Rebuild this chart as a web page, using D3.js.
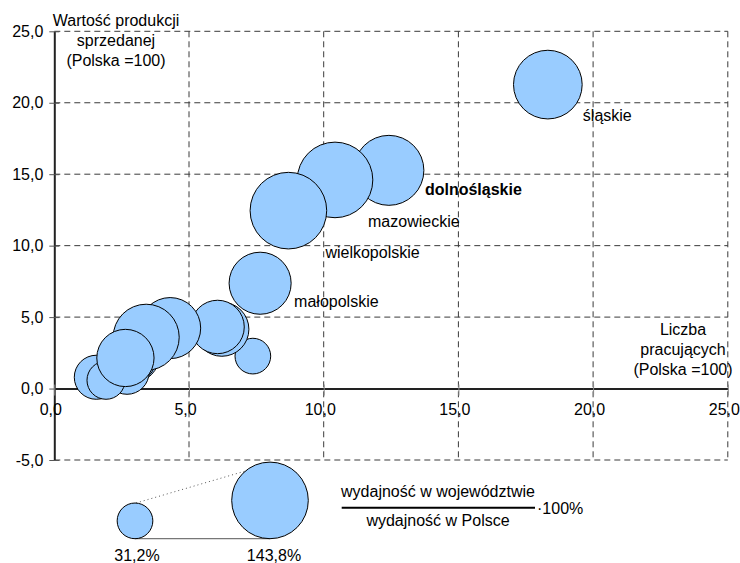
<!DOCTYPE html>
<html>
<head>
<meta charset="utf-8">
<script src="https://cdn.jsdelivr.net/npm/d3@7"></script>
<style>
  html, body { margin: 0; padding: 0; background: #fff; }
  svg { display: block; font-family: "Liberation Sans", Arial, sans-serif; }
</style>
</head>
<body>
<svg id="chart" width="740" height="563"></svg>
<script>
// ---- data ----
const regions = ["śląskie","dolnośląskie","mazowieckie","wielkopolskie","małopolskie",
  "opolskie","pomorskie","łódzkie","kujawsko-pomorskie","zachodniopomorskie",
  "lubuskie","podkarpackie","warmińsko-mazurskie","podlaskie","lubelskie","świętokrzyskie"];
const employment = [18.32, 12.42, 10.42, 8.69, 7.64, 7.37, 6.22, 6.06, 4.30, 2.87, 2.75, 2.70, 1.56, 1.92, 3.41, 2.64];
const production = [21.27, 15.27, 14.60, 12.45, 7.37, 2.27, 4.15, 4.31, 4.23, 2.36, 2.26, 1.14, 0.79, 0.58, 3.59, 2.14];
const productivity = [115.6, 120.0, 140.0, 143.8, 94.4, 31.2, 71.6, 70.0, 91.4, 77.0, 78.5, 47.6, 47.6, 35.5, 107.0, 80.4];
const labelled = ["śląskie","dolnośląskie","mazowieckie","wielkopolskie","małopolskie"];
const xTicks = [0, 5, 10, 15, 20, 25];
const yTicks = [-5, 0, 5, 10, 15, 20, 25];
const legendValues = [31.2, 143.8];
const yTitle = ["Wartość produkcji", "sprzedanej", "(Polska =100)"];
const xTitle = ["Liczba", "pracujących", "(Polska =100)"];
const formulaTop = "wydajność w województwie";
const formulaBottom = "wydajność w Polsce";
const formulaFactor = "·100%";

// ---- layout ----
const svg = d3.select("#chart");
const x = d3.scaleLinear().domain([0, 25]).range([54.3, 727.8]);
const y = d3.scaleLinear().domain([-5, 25]).range([460, 31.3]);
const r = d3.scaleSqrt().domain([0, 143.8]).range([0, 38.3]);
const fmt = v => d3.format(".1f")(v).replace(".", ",").replace("\u2212", "-");
const FS = 16;

// grid
const grid = svg.append("g").attr("stroke", "#3a3a3a").attr("stroke-width", 1)
  .attr("stroke-dasharray", "6,4").attr("fill", "none");
yTicks.filter(v => v !== 0).forEach(v => {
  grid.append("line").attr("x1", x(0)).attr("x2", x(25)).attr("y1", y(v)).attr("y2", y(v));
});
xTicks.filter(v => v !== 0).forEach(v => {
  grid.append("line").attr("x1", x(v)).attr("x2", x(v)).attr("y1", y(25)).attr("y2", y(-5));
});

// axes
const yAxis = d3.axisLeft(y).tickValues(yTicks).tickFormat(fmt).tickSizeInner(5).tickSizeOuter(0).tickPadding(6);
const gy = svg.append("g").attr("transform", `translate(${x(0)},0)`).call(yAxis);
gy.select(".domain").attr("stroke", "#222").attr("stroke-width", 2);
gy.selectAll(".tick line").attr("stroke", "#555").attr("x2", -5).attr("x1", 5);
gy.selectAll(".tick text").attr("font-size", FS).attr("font-family", "Liberation Sans, Arial, sans-serif").attr("fill", "#000");

const xAxis = d3.axisBottom(x).tickValues(xTicks).tickFormat(fmt).tickSizeInner(5).tickSizeOuter(0).tickPadding(10);
const gx = svg.append("g").attr("transform", `translate(0,${y(0)})`).call(xAxis);
gx.select(".domain").attr("stroke", "#222").attr("stroke-width", 2);
gx.selectAll(".tick line").attr("stroke", "#888").attr("y1", -4).attr("y2", 7);
gx.selectAll(".tick text").attr("font-size", FS).attr("font-family", "Liberation Sans, Arial, sans-serif")
  .attr("fill", "#000").attr("dx", -4);

// bubbles
const data = regions.map((name, i) => ({ name, x: employment[i], y: production[i], v: productivity[i] }));
svg.append("g").selectAll("circle").data(data).join("circle")
  .attr("cx", d => x(d.x)).attr("cy", d => y(d.y)).attr("r", d => r(d.v))
  .attr("fill", "#99CCFF").attr("stroke", "#000").attr("stroke-width", 1);

// labels
const labelOffset = {
  "śląskie": [35, 31, "normal"],
  "dolnośląskie": [36, 19, "bold"],
  "mazowieckie": [33, 41, "normal"],
  "wielkopolskie": [37, 42, "normal"],
  "małopolskie": [34, 18, "normal"]
};
svg.append("g").selectAll("text").data(data.filter(d => labelled.includes(d.name))).join("text")
  .attr("x", d => x(d.x) + labelOffset[d.name][0])
  .attr("y", d => y(d.y) + labelOffset[d.name][1])
  .attr("dy", "0.35em")
  .attr("font-size", FS)
  .attr("font-weight", d => labelOffset[d.name][2])
  .text(d => d.name);

// axis titles
svg.append("g").selectAll("text").data(yTitle).join("text")
  .attr("x", 116).attr("y", (d, i) => 26 + i * 20)
  .attr("text-anchor", "middle").attr("font-size", FS).text(d => d);
svg.append("g").selectAll("text").data(xTitle).join("text")
  .attr("x", 683).attr("y", (d, i) => 335 + i * 20)
  .attr("text-anchor", "middle").attr("font-size", FS).text(d => d);

// size legend
const lg = svg.append("g");
const smallC = { cx: 135, cy: 538.7 - r(legendValues[0]) };
const bigC = { cx: 270, cy: 538.7 - r(legendValues[1]) };
lg.append("line").attr("x1", smallC.cx).attr("x2", bigC.cx).attr("y1", 538.7).attr("y2", 538.7)
  .attr("stroke", "#777").attr("stroke-width", 1.2);
lg.append("line").attr("x1", smallC.cx + 1).attr("y1", smallC.cy - r(legendValues[0]))
  .attr("x2", 246.5).attr("y2", 470.7)
  .attr("stroke", "#555").attr("stroke-width", 1).attr("stroke-dasharray", "1,3");
[smallC, bigC].forEach((c, i) => {
  lg.append("circle").attr("cx", c.cx).attr("cy", c.cy).attr("r", r(legendValues[i]))
    .attr("fill", "#99CCFF").attr("stroke", "#000").attr("stroke-width", 1);
  lg.append("text").attr("x", c.cx + (i ? 4 : 2)).attr("y", 561)
    .attr("text-anchor", "middle").attr("font-size", FS)
    .text(fmt(legendValues[i]) + "%");
});

// formula
const fg = svg.append("g");
fg.append("text").attr("x", 438).attr("y", 497).attr("text-anchor", "middle").attr("font-size", FS).text(formulaTop);
fg.append("line").attr("x1", 341.7).attr("x2", 535).attr("y1", 507.7).attr("y2", 507.7)
  .attr("stroke", "#000").attr("stroke-width", 2);
fg.append("text").attr("x", 438).attr("y", 526).attr("text-anchor", "middle").attr("font-size", FS).text(formulaBottom);
fg.append("text").attr("x", 537).attr("y", 513.5).attr("font-size", FS).text(formulaFactor);
</script>
</body>
</html>
